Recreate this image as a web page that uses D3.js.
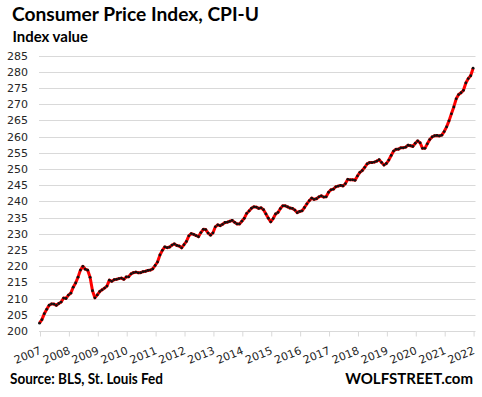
<!DOCTYPE html>
<html>
<head>
<meta charset="utf-8">
<script src="https://cdn.jsdelivr.net/npm/d3@7"></script>
<style>
  html, body { margin: 0; padding: 0; background: #fff; }
  svg { display: block; }
</style>
</head>
<body>
<div id="chart"></div>
<script>
// ---- Data ----
const yearLabels = ["2007","2008","2009","2010","2011","2012","2013","2014","2015","2016","2017","2018","2019","2020","2021","2022"];
const yTicks = [200,205,210,215,220,225,230,235,240,245,250,255,260,265,270,275,280,285];
// CPI-U monthly index values, Jan 2007 - Jan 2022
const cpi2007 = [202.416,203.499,205.352,206.686,207.949,208.352,208.299,207.917,208.490,208.936,210.177,210.036];
const cpi2008 = [211.080,211.693,213.528,214.823,216.632,218.815,219.964,219.086,218.783,216.573,212.425,210.228];
const cpi2009 = [211.143,212.193,212.709,213.240,213.856,215.693,215.351,215.834,215.969,216.177,216.330,215.949];
const cpi2010 = [216.687,216.741,217.631,218.009,218.178,217.965,218.011,218.312,218.439,218.711,218.803,219.179];
const cpi2011 = [220.223,221.309,223.467,224.906,225.964,225.722,225.922,226.545,226.889,226.421,226.230,225.672];
const cpi2012 = [226.665,227.663,229.392,230.085,229.815,229.478,229.104,230.379,231.407,231.317,230.221,229.601];
const cpi2013 = [230.280,232.166,232.773,232.531,232.945,233.504,233.596,233.877,234.149,233.546,233.069,233.049];
const cpi2014 = [233.916,234.781,236.293,237.072,237.900,238.343,238.250,237.852,238.031,237.433,236.151,234.812];
const cpi2015 = [233.707,234.722,236.119,236.599,237.805,238.638,238.654,238.316,237.945,237.838,237.336,236.525];
const cpi2016 = [236.916,237.111,238.132,239.261,240.229,241.018,240.628,240.849,241.428,241.729,241.353,241.432];
const cpi2017 = [242.839,243.603,243.801,244.524,244.733,244.955,244.786,245.519,246.819,246.663,246.669,246.524];
const cpi2018 = [247.867,248.991,249.554,250.546,251.588,251.989,252.006,252.146,252.439,252.885,252.038,251.233];
const cpi2019 = [251.712,252.776,254.202,255.548,256.092,256.143,256.571,256.558,256.759,257.346,257.208,256.974];
const cpi2020 = [257.971,258.678,258.115,256.389,256.394,257.797,259.101,259.918,260.280,260.388,260.229,260.474];
const cpi2021 = [261.582,263.014,264.877,267.054,269.195,271.696,273.003,273.567,274.310,276.589,277.948,278.802];
const cpi2022 = [281.148];
const cpi = [].concat(cpi2007,cpi2008,cpi2009,cpi2010,cpi2011,cpi2012,cpi2013,cpi2014,
  cpi2015,cpi2016,cpi2017,cpi2018,cpi2019,cpi2020,cpi2021,cpi2022);

// ---- Chart ----
const W = 482, H = 397;
const svg = d3.select("#chart").append("svg").attr("width", W).attr("height", H);

const x = d3.scaleLinear().domain([0, 181]).range([39.5, 475.5]);
const y = d3.scaleLinear().domain([200, 285]).range([331, 55.7]);

// Title texts
svg.append("text").attr("x", 12).attr("y", 21)
  .attr("font-family", "Lato, 'Open Sans', sans-serif").attr("font-weight", "bold")
  .attr("font-size", 19).attr("fill", "#000")
  .attr("textLength", 247).attr("lengthAdjust", "spacingAndGlyphs")
  .text("Consumer  Price Index, CPI-U");
svg.append("text").attr("x", 12.5).attr("y", 42)
  .attr("font-family", "Lato, 'Open Sans', sans-serif").attr("font-weight", "bold")
  .attr("font-size", 14.5).attr("fill", "#000")
  .attr("textLength", 75.5).attr("lengthAdjust", "spacingAndGlyphs")
  .text("Index value");

// Gridlines
svg.append("g").selectAll("line").data(yTicks).join("line")
  .attr("x1", 39).attr("x2", 475.5)
  .attr("y1", d => Math.round(y(d)) + 0.5).attr("y2", d => Math.round(y(d)) + 0.5)
  .attr("stroke", "#d9d9d9").attr("stroke-width", 1);

// Y labels
svg.append("g").selectAll("text").data(yTicks).join("text")
  .attr("x", 28).attr("y", d => y(d)).attr("dy", "0.36em")
  .attr("text-anchor", "end")
  .attr("font-family", "'DejaVu Sans', Verdana, sans-serif").attr("font-size", 11)
  .attr("fill", "#262626")
  .text(d => d);

// X axis
const xAxis = d3.axisBottom(x)
  .tickValues(yearLabels.map((_, i) => i * 12))
  .tickFormat((d, i) => yearLabels[i])
  .tickSize(5).tickSizeOuter(0);
const gx = svg.append("g").attr("transform", "translate(0," + (Math.round(y(200)) + 0.5) + ")").call(xAxis);
gx.select(".domain").remove();
gx.selectAll(".tick line").attr("stroke", "#d9d9d9").attr("transform", "translate(0.5,0)");
gx.selectAll(".tick text")
  .attr("font-family", "'DejaVu Sans', Verdana, sans-serif").attr("font-size", 11)
  .attr("fill", "#262626")
  .attr("text-anchor", "end")
  .attr("dy", null).attr("y", 0)
  .attr("transform", "translate(2,22) rotate(-22)");

// Line
const line = d3.line().x((d, i) => x(i)).y(d => y(d));
svg.append("path").datum(cpi).attr("d", line)
  .attr("fill", "none").attr("stroke", "#ff0000").attr("stroke-width", 3)
  .attr("stroke-linejoin", "round");

// Markers
svg.append("g").selectAll("circle").data(cpi).join("circle")
  .attr("cx", (d, i) => x(i)).attr("cy", d => y(d)).attr("r", 1.4)
  .attr("fill", "#111");

// Footer
svg.append("text").attr("x", 10).attr("y", 384)
  .attr("font-family", "Lato, 'Open Sans', sans-serif").attr("font-weight", "bold")
  .attr("font-size", 14.5).attr("fill", "#000")
  .attr("textLength", 153).attr("lengthAdjust", "spacingAndGlyphs")
  .text("Source: BLS, St. Louis Fed");
svg.append("text").attr("x", 473).attr("y", 384)
  .attr("text-anchor", "end")
  .attr("font-family", "Lato, 'Open Sans', sans-serif").attr("font-weight", "bold")
  .attr("font-size", 15).attr("fill", "#000")
  .text("WOLFSTREET.com");
</script>
</body>
</html>
